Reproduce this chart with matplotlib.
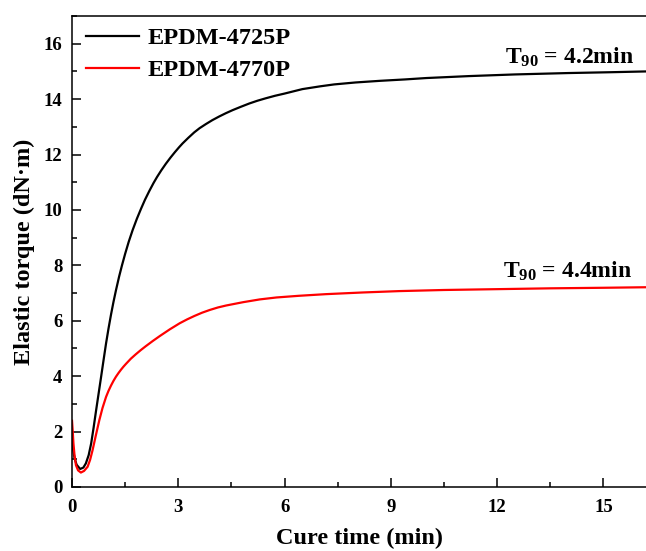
import matplotlib
matplotlib.use("Agg")
import matplotlib.pyplot as plt
from matplotlib.ticker import MultipleLocator

plt.rcParams["font.family"] = "Liberation Serif"
plt.rcParams["font.weight"] = "bold"
plt.rcParams["axes.labelweight"] = "bold"
plt.rcParams["mathtext.fontset"] = "custom"
plt.rcParams["mathtext.rm"] = "Liberation Serif:bold"
plt.rcParams["mathtext.it"] = "Liberation Serif:bold"
plt.rcParams["mathtext.bf"] = "Liberation Serif:bold"
plt.rcParams["mathtext.default"] = "rm"

# EPDM-4725P cure curve
t_4725 = [0, 0.03, 0.07, 0.13, 0.23, 0.32, 0.39, 0.47, 0.54, 0.61, 0.68, 0.75,
          0.82, 0.89, 0.96, 1.03, 1.1, 1.17, 1.24, 1.33, 1.41, 1.5, 1.6, 1.71,
          1.83, 1.95, 2.06, 2.18, 2.3, 2.4, 2.52, 2.65, 2.78, 2.9, 3.02, 3.12,
          3.28, 3.45, 3.6, 3.78, 3.96, 4.15, 4.34, 4.53, 4.76, 5.0, 5.23, 5.47,
          5.73, 6.0, 6.5, 7.0, 7.4, 8.0, 8.7, 9.4, 10.0, 11.2, 12.5, 14.0, 15.2,
          16.25]
m_4725 = [1.81, 1.35, 1.05, 0.8, 0.65, 0.7, 0.85, 1.15, 1.57, 2.15, 2.77, 3.37,
          3.97, 4.58, 5.18, 5.72, 6.22, 6.68, 7.1, 7.6, 8.0, 8.42, 8.85, 9.27,
          9.68, 10.05, 10.37, 10.68, 10.97, 11.19, 11.43, 11.67, 11.89, 12.08,
          12.26, 12.4, 12.6, 12.8, 12.95, 13.1, 13.24, 13.37, 13.49, 13.6, 13.72,
          13.84, 13.94, 14.03, 14.12, 14.2, 14.36, 14.46, 14.53, 14.6, 14.66,
          14.71, 14.76, 14.83, 14.89, 14.94, 14.97, 15.0]

# EPDM-4770P cure curve
t_4770 = [0, 0.02, 0.04, 0.07, 0.11, 0.17, 0.25, 0.34, 0.44, 0.51, 0.58, 0.67,
          0.77, 0.86, 0.96, 1.03, 1.1, 1.17, 1.24, 1.31, 1.38, 1.45, 1.52, 1.66,
          1.8, 1.94, 2.08, 2.28, 2.48, 2.76, 3.04, 3.25, 3.45, 3.67, 3.89, 4.12,
          4.35, 4.83, 5.3, 5.77, 6.4, 7.17, 8.2, 9.24, 10.5, 12.0, 13.5, 15.0,
          16.25]
m_4770 = [2.39, 2.0, 1.57, 1.15, 0.79, 0.6, 0.52, 0.58, 0.73, 0.98, 1.33, 1.85,
          2.41, 2.85, 3.25, 3.47, 3.66, 3.83, 3.98, 4.11, 4.23, 4.34, 4.44, 4.63,
          4.79, 4.94, 5.08, 5.27, 5.45, 5.69, 5.91, 6.05, 6.17, 6.29, 6.39, 6.48,
          6.55, 6.67, 6.77, 6.84, 6.9, 6.96, 7.02, 7.07, 7.11, 7.14, 7.17, 7.19,
          7.21]

labels = ["EPDM-4725P", "EPDM-4770P"]
t90_text = [r"T$_{90}$ = 4.2min", r"T$_{90}$ = 4.4min"]

fig = plt.figure(figsize=(6.46, 5.51), dpi=100)
ax = fig.add_axes([0.1115, 0.1162, 0.8885, 0.8548])

ax.plot(t_4725, m_4725, color="black", lw=1.6, label=labels[0])
ax.plot(t_4770, m_4770, color="red", lw=1.6, label=labels[1])

ax.text(15.85, 15.28, t90_text[0], ha="right", va="baseline", fontsize=17)
ax.text(15.8, 7.54, t90_text[1], ha="right", va="baseline", fontsize=17)

ax.set_xlim(0, 16.2)
ax.set_ylim(0, 17)
ax.xaxis.set_major_locator(MultipleLocator(3))
ax.xaxis.set_minor_locator(MultipleLocator(1.5))
ax.yaxis.set_major_locator(MultipleLocator(2))
ax.yaxis.set_minor_locator(MultipleLocator(1))
ax.tick_params(which="both", direction="in", width=1.1, labelsize=13.5)
ax.tick_params(axis="x", pad=9)
ax.tick_params(axis="y", pad=7)
ax.tick_params(which="major", length=6.5)
ax.tick_params(which="minor", length=3.5)
ax.tick_params(top=False, right=False, which="both")
for s in ax.spines.values():
    s.set_linewidth(1.1)
ax.spines["right"].set_visible(False)

ax.set_xlabel("Cure time (min)", fontsize=17.5, fontweight="bold", labelpad=8)
ax.set_ylabel("Elastic torque (dN·m)", fontsize=17.5, fontweight="bold",
              labelpad=6)

ax.legend(loc="upper left", bbox_to_anchor=(0.024, 0.976), frameon=False,
          fontsize=17.5, handlelength=2.2, handletextpad=0.35,
          labelspacing=0.4, borderpad=0, borderaxespad=0)

fig.savefig("out.png", dpi=100)
